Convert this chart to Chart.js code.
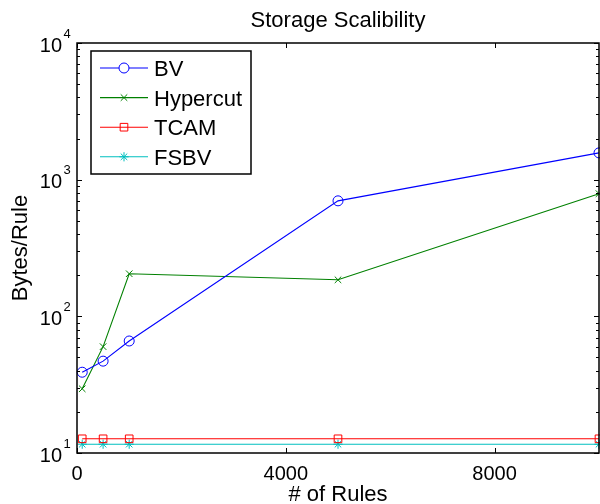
<!DOCTYPE html>
<html><head><meta charset="utf-8">
<script src="https://cdn.jsdelivr.net/npm/chart.js@4/dist/chart.umd.min.js"></script>
<style>html,body{margin:0;padding:0;background:#fff}#wrap{width:600px;height:504px;position:relative}</style>
</head><body><div id="wrap"><canvas id="c"></canvas></div>
<script>
const ruleCounts = [100, 500, 1000, 5000, 10000];
const bvBytes = [39, 47, 66, 700, 1570];
const hypercutBytes = [29.5, 60, 205, 185, 790];
const tcamBytes = [12.7, 12.7, 12.7, 12.7, 12.7];
const fsbvBytes = [11.6, 11.6, 11.6, 11.6, 11.6];
const seriesNames = ['BV', 'Hypercut', 'TCAM', 'FSBV'];
const xTickValues = [0, 4000, 8000];
const yTickExponents = [1, 2, 3, 4];
const chartTitle = 'Storage Scalibility';
const xTitle = '# of Rules';
const yTitle = 'Bytes/Rule';

const FONT = "'Liberation Sans', Arial, Helvetica, sans-serif";
const styles = [
  {color: '#0000ff', pointStyle: 'circle', radius: 5},
  {color: '#008000', pointStyle: 'crossRot', radius: 4.6},
  {color: '#ff0000', pointStyle: 'rect', radius: 5.4},
  {color: '#00bfbf', pointStyle: 'star', radius: 4.6}
];
const seriesValues = [bvBytes, hypercutBytes, tcamBytes, fsbvBytes];

const datasets = seriesNames.map((name, i) => ({
  label: name,
  data: ruleCounts.map((x, j) => ({x: x, y: seriesValues[i][j]})),
  borderColor: styles[i].color,
  backgroundColor: 'rgba(0,0,0,0)',
  pointBorderColor: styles[i].color,
  pointBackgroundColor: 'rgba(0,0,0,0)',
  pointStyle: styles[i].pointStyle,
  pointRadius: styles[i].radius,
  pointHoverRadius: styles[i].radius,
  pointBorderWidth: 1,
  borderWidth: 1.1,
  tension: 0,
  clip: false
}));

function drawMarker(ctx, style, r, x, y, fill) {
  ctx.beginPath();
  if (style === 'circle') {
    ctx.arc(x, y, r, 0, Math.PI * 2);
    if (fill) { ctx.fillStyle = fill; ctx.fill(); }
  } else if (style === 'rect') {
    const s = Math.SQRT1_2 * r;
    ctx.rect(x - s, y - s, 2 * s, 2 * s);
    if (fill) { ctx.fillStyle = fill; ctx.fill(); }
  } else {
    const d = Math.SQRT1_2 * r;
    ctx.moveTo(x - d, y - d); ctx.lineTo(x + d, y + d);
    ctx.moveTo(x - d, y + d); ctx.lineTo(x + d, y - d);
    if (style === 'star') {
      ctx.moveTo(x, y - r); ctx.lineTo(x, y + r);
      ctx.moveTo(x - r, y); ctx.lineTo(x + r, y);
    }
  }
  ctx.stroke();
}

const decor = {
  id: 'matlabDecor',
  afterDraw(chart) {
    const ctx = chart.ctx;
    const a = chart.chartArea;
    const xs = chart.scales.x, ys = chart.scales.y;
    ctx.save();
    ctx.strokeStyle = '#000';
    ctx.fillStyle = '#000';
    // ticks
    ctx.lineWidth = 1;
    ctx.beginPath();
    xTickValues.forEach(v => {
      const px = Math.round(xs.getPixelForValue(v)) + 0.5;
      ctx.moveTo(px, a.bottom); ctx.lineTo(px, a.bottom - 5);
      ctx.moveTo(px, a.top); ctx.lineTo(px, a.top + 5);
    });
    yTickExponents.forEach(e => {
      const base = Math.pow(10, e);
      const py = Math.round(ys.getPixelForValue(base)) + 0.5;
      ctx.moveTo(a.left, py); ctx.lineTo(a.left + 5, py);
      ctx.moveTo(a.right, py); ctx.lineTo(a.right - 5, py);
      if (e < yTickExponents[yTickExponents.length - 1]) {
        for (let m = 2; m <= 9; m++) {
          const q = Math.round(ys.getPixelForValue(m * base)) + 0.5;
          ctx.moveTo(a.left, q); ctx.lineTo(a.left + 3, q);
          ctx.moveTo(a.right, q); ctx.lineTo(a.right - 3, q);
        }
      }
    });
    ctx.stroke();
    // box
    ctx.lineWidth = 1.5;
    ctx.strokeRect(a.left, a.top, a.right - a.left, a.bottom - a.top);

    // x tick labels
    ctx.font = '20px ' + FONT;
    ctx.textAlign = 'center';
    ctx.textBaseline = 'alphabetic';
    xTickValues.forEach(v => {
      ctx.fillText(String(v), xs.getPixelForValue(v), a.bottom + 26.5);
    });
    // y tick labels 10^e
    yTickExponents.forEach(e => {
      const py = ys.getPixelForValue(Math.pow(10, e));
      ctx.font = '20px ' + FONT;
      ctx.textAlign = 'right';
      ctx.fillText('10', a.left - 15, py + 8.5);
      ctx.font = '13px ' + FONT;
      ctx.textAlign = 'left';
      ctx.fillText(String(e), a.left - 13.5, py - 5.5);
    });
    // titles
    const cx = (a.left + a.right) / 2;
    ctx.font = '22px ' + FONT;
    ctx.textAlign = 'center';
    ctx.fillText(chartTitle, cx, 27);
    ctx.fillText(xTitle, cx, 501);
    ctx.save();
    ctx.translate(27, (a.top + a.bottom) / 2);
    ctx.rotate(-Math.PI / 2);
    ctx.fillText(yTitle, 0, 0);
    ctx.restore();

    // legend
    const lx = 91, ly = 51, lw = 160, lh = 123;
    ctx.fillStyle = '#fff';
    ctx.fillRect(lx, ly, lw, lh);
    ctx.lineWidth = 1.5;
    ctx.strokeStyle = '#000';
    ctx.strokeRect(lx, ly, lw, lh);
    seriesNames.forEach((name, i) => {
      const y = 68 + i * 29.6;
      const st = styles[i];
      ctx.strokeStyle = st.color;
      ctx.lineWidth = 1.1;
      ctx.beginPath();
      ctx.moveTo(100, y); ctx.lineTo(148, y);
      ctx.stroke();
      ctx.lineWidth = 1;
      drawMarker(ctx, st.pointStyle, st.radius, 124, y, st.pointStyle === 'circle' ? '#fff' : null);
      ctx.fillStyle = '#000';
      ctx.font = '22px ' + FONT;
      ctx.textAlign = 'left';
      ctx.fillText(name, 154, y + 8);
    });
    ctx.restore();
  }
};

new Chart(document.getElementById('c'), {
  type: 'line',
  data: {datasets: datasets},
  options: {
    responsive: true,
    maintainAspectRatio: false,
    animation: false,
    layout: {autoPadding: false, padding: {left: 77, right: 1, top: 43, bottom: 51}},
    plugins: {legend: {display: false}, title: {display: false}, tooltip: {enabled: false}},
    events: [],
    scales: {
      x: {type: 'linear', min: 0, max: 10000, display: false},
      y: {type: 'logarithmic', min: 10, max: 10000, display: false}
    }
  },
  plugins: [decor]
});
</script>
</body></html>
